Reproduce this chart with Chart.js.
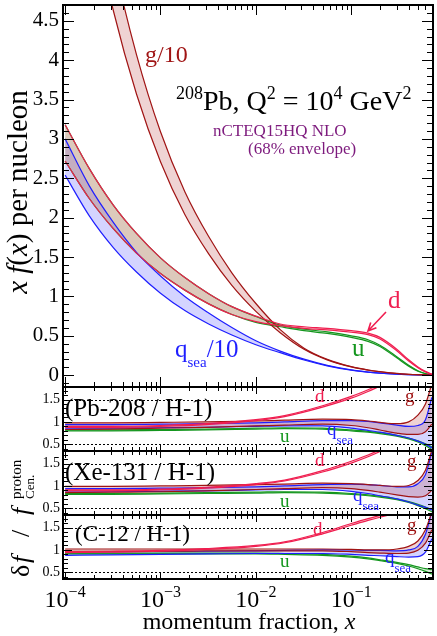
<!DOCTYPE html>
<html>
<head>
<meta charset="utf-8">
<script src="https://cdn.jsdelivr.net/npm/chart.js@4.4.0/dist/chart.umd.min.js"></script>
<style>
  html, body { margin: 0; padding: 0; background: #fff; }
  #wrap { position: relative; width: 437px; height: 636px; }
  #wrap canvas { position: absolute; left: 0; top: 0; }
</style>
</head>
<body>
<div id="wrap">
  <canvas id="main" width="437" height="636"></canvas>
  <canvas id="pb" width="437" height="636"></canvas>
  <canvas id="xe" width="437" height="636"></canvas>
  <canvas id="c12" width="437" height="636"></canvas>
</div>
<script>
// ---- main panel: x f(x) per nucleon, Pb-208, Q^2 = 10^4 GeV^2
const xMain = [1e-4, 1.8e-4, 3.2e-4, 5.6e-4, 1e-3, 1.8e-3, 3.2e-3, 5.6e-3, 1e-2, 1.8e-2, 3.2e-2, 5.6e-2, 0.1, 0.15, 0.2, 0.3, 0.4, 0.5, 0.6, 0.7];
const gLo = [7.79, 6.0, 4.63, 3.57, 2.71, 2.04, 1.54, 1.14, 0.81, 0.54, 0.33, 0.195, 0.106, 0.065, 0.0435, 0.0215, 0.0115, 0.0064, 0.0037, 0.002];
const gHi = [8.88, 6.84, 5.28, 4.07, 3.09, 2.33, 1.76, 1.30, 0.91, 0.578, 0.343, 0.201, 0.108, 0.066, 0.044, 0.022, 0.0117, 0.0065, 0.0038, 0.002];
const dLo = [2.72, 2.24, 1.86, 1.55, 1.29, 1.08, 0.905, 0.77, 0.68, 0.63, 0.595, 0.575, 0.545, 0.515, 0.46, 0.31, 0.18, 0.095, 0.04, 0.01];
const dHi = [3.18, 2.62, 2.16, 1.80, 1.49, 1.24, 1.035, 0.87, 0.75, 0.65, 0.615, 0.595, 0.565, 0.535, 0.48, 0.33, 0.195, 0.105, 0.048, 0.014];
const uLo = [2.72, 2.24, 1.86, 1.55, 1.29, 1.08, 0.905, 0.77, 0.67, 0.615, 0.565, 0.53, 0.48, 0.43, 0.365, 0.22, 0.115, 0.05, 0.018, 0.004];
const uHi = [3.18, 2.62, 2.16, 1.80, 1.49, 1.24, 1.035, 0.87, 0.745, 0.635, 0.585, 0.55, 0.50, 0.45, 0.38, 0.235, 0.125, 0.057, 0.022, 0.006];
const qLo = [2.54, 2.02, 1.62, 1.31, 1.04, 0.82, 0.65, 0.51, 0.387, 0.286, 0.193, 0.119, 0.0635, 0.038, 0.0255, 0.013, 0.0075, 0.0044, 0.0024, 0.0014];
const qHi = [3.00, 2.40, 1.94, 1.56, 1.26, 1.00, 0.79, 0.605, 0.437, 0.306, 0.203, 0.125, 0.0665, 0.040, 0.0265, 0.0138, 0.0079, 0.0046, 0.0026, 0.0016];

// ---- ratio panels (nucleus / proton)
const xRatio = [1e-4, 3e-4, 1e-3, 3e-3, 1e-2, 2e-2, 5e-2, 0.1, 0.15, 0.2, 0.3, 0.4, 0.5, 0.6, 0.7];

const pbGLo = [0.83, 0.84, 0.86, 0.88, 0.91, 0.93, 0.95, 0.92, 0.87, 0.82, 0.75, 0.72, 0.72, 0.78, 0.95];
const pbGHi = [0.98, 0.98, 0.99, 1.00, 1.02, 1.04, 1.06, 1.05, 1.02, 0.99, 0.96, 1.00, 1.15, 1.40, 1.85];
const pbQLo = [0.86, 0.86, 0.87, 0.88, 0.90, 0.91, 0.91, 0.86, 0.81, 0.77, 0.70, 0.64, 0.57, 0.50, 0.42];
const pbQHi = [0.94, 0.94, 0.95, 0.96, 0.98, 1.00, 1.03, 1.03, 1.01, 0.98, 0.93, 0.90, 0.92, 1.05, 1.55];
const pbULo = [0.80, 0.80, 0.81, 0.82, 0.84, 0.85, 0.84, 0.80, 0.77, 0.74, 0.68, 0.62, 0.55, 0.47, 0.38];
const pbUHi = [0.82, 0.82, 0.83, 0.84, 0.86, 0.87, 0.86, 0.82, 0.79, 0.76, 0.70, 0.64, 0.58, 0.51, 0.44];
const pbDLo = [0.88, 0.88, 0.90, 0.94, 1.03, 1.12, 1.33, 1.53, 1.68, 1.80, 1.97, 2.10, 2.20, 2.30, 2.40];
const pbDHi = [0.90, 0.90, 0.92, 0.96, 1.05, 1.14, 1.36, 1.57, 1.72, 1.84, 2.02, 2.15, 2.25, 2.35, 2.45];

const xeGLo = [0.85, 0.86, 0.87, 0.89, 0.92, 0.94, 0.96, 0.94, 0.90, 0.86, 0.80, 0.76, 0.75, 0.78, 0.90];
const xeGHi = [0.99, 0.99, 1.00, 1.01, 1.03, 1.04, 1.06, 1.05, 1.03, 1.01, 0.99, 1.01, 1.12, 1.35, 1.80];
const xeQLo = [0.86, 0.87, 0.88, 0.89, 0.91, 0.92, 0.92, 0.88, 0.83, 0.78, 0.71, 0.64, 0.57, 0.52, 0.46];
const xeQHi = [0.94, 0.94, 0.95, 0.96, 0.98, 1.00, 1.03, 1.04, 1.03, 1.01, 0.98, 0.98, 1.05, 1.25, 1.75];
const xeULo = [0.81, 0.81, 0.82, 0.83, 0.84, 0.85, 0.84, 0.81, 0.78, 0.75, 0.69, 0.63, 0.56, 0.49, 0.42];
const xeUHi = [0.83, 0.83, 0.84, 0.85, 0.86, 0.87, 0.86, 0.83, 0.80, 0.77, 0.71, 0.65, 0.59, 0.53, 0.47];
const xeDLo = [0.89, 0.89, 0.91, 0.95, 1.03, 1.11, 1.31, 1.51, 1.65, 1.77, 1.93, 2.05, 2.15, 2.25, 2.35];
const xeDHi = [0.91, 0.91, 0.93, 0.97, 1.05, 1.13, 1.34, 1.55, 1.69, 1.81, 1.98, 2.10, 2.20, 2.30, 2.40];

const cGLo = [0.97, 0.97, 0.97, 0.98, 0.98, 0.98, 0.98, 0.96, 0.94, 0.93, 0.92, 0.93, 0.99, 1.15, 1.45];
const cGHi = [1.02, 1.02, 1.02, 1.02, 1.02, 1.02, 1.02, 1.01, 1.00, 1.00, 1.02, 1.08, 1.20, 1.45, 1.85];
const cQLo = [0.88, 0.89, 0.90, 0.91, 0.92, 0.92, 0.92, 0.90, 0.88, 0.87, 0.85, 0.84, 0.85, 0.95, 1.25];
const cQHi = [0.96, 0.96, 0.97, 0.97, 0.98, 0.99, 1.00, 1.00, 0.99, 0.99, 0.98, 1.00, 1.08, 1.35, 1.85];
const cULo = [0.91, 0.91, 0.91, 0.91, 0.91, 0.90, 0.88, 0.84, 0.80, 0.76, 0.70, 0.64, 0.58, 0.52, 0.46];
const cUHi = [0.93, 0.93, 0.93, 0.93, 0.93, 0.92, 0.90, 0.86, 0.82, 0.78, 0.72, 0.67, 0.62, 0.58, 0.56];
const cDLo = [0.94, 0.95, 0.97, 1.01, 1.08, 1.16, 1.36, 1.55, 1.66, 1.73, 1.82, 1.88, 1.92, 1.95, 1.98];
const cDHi = [0.96, 0.97, 0.99, 1.03, 1.10, 1.18, 1.39, 1.59, 1.70, 1.77, 1.87, 1.93, 1.97, 2.00, 2.03];

const mainTicks = [0, 0.5, 1, 1.5, 2, 2.5, 3, 3.5, 4, 4.5];
const ratioTicks = [0.5, 1, 1.5];
const xDecades = [-4, -3, -2, -1];

const X_MIN = 9.5e-5, X_MAX = 0.72;
const G_COL = '#a01414', D_COL = '#f01e50', U_COL = '#14961e', Q_COL = '#1e1eff', PURPLE = '#7d1a7d';
const G_FILL = 'rgba(190, 80, 80, 0.25)';
const D_FILL = 'rgba(230, 120, 120, 0.3)';
const U_FILL = 'rgba(60, 160, 60, 0.2)';
const Q_FILL = 'rgba(60, 60, 255, 0.22)';
const SERIF = '"Liberation Serif", "DejaVu Serif", serif';

function F(size) { return size + 'px ' + SERIF; }
function FI(size) { return 'italic ' + size + 'px ' + SERIF; }

function band(xs, lo, hi, color, fillColor, order) {
  const pts = arr => xs.map((x, i) => ({x: x, y: arr[i]}));
  const common = {borderColor: color, borderWidth: 1.2, pointRadius: 0,
                  cubicInterpolationMode: 'monotone', order: order};
  return [
    Object.assign({data: pts(lo), fill: false}, common),
    Object.assign({data: pts(hi), fill: '-1', backgroundColor: fillColor}, common)
  ];
}

// draws a run of text pieces: [text, font, dy, color]
function rich(ctx, parts, x, y, align) {
  let w = 0;
  parts.forEach(p => { ctx.font = p[1]; w += ctx.measureText(p[0]).width; });
  let cx = align === 'center' ? x - w / 2 : x;
  parts.forEach(p => {
    ctx.font = p[1];
    if (p[3]) ctx.fillStyle = p[3];
    ctx.fillText(p[0], cx, y + (p[2] || 0));
    cx += ctx.measureText(p[0]).width;
  });
  return cx;
}

function drawFrame(chart, c) {
  const ctx = chart.ctx, a = chart.chartArea;
  const xs = chart.scales.x, ys = chart.scales.y;
  ctx.save();
  ctx.strokeStyle = '#000';
  ctx.lineWidth = 1;
  ctx.beginPath();
  for (let e = -5; e <= 0; e++) {
    for (let m = 1; m <= 9; m++) {
      const v = m * Math.pow(10, e);
      if (v < X_MIN || v > X_MAX) continue;
      const p = Math.round(xs.getPixelForValue(v)) + 0.5;
      const len = m === 1 ? c.xMajor : c.xMinor;
      ctx.moveTo(p, a.top); ctx.lineTo(p, a.top + len);
      ctx.moveTo(p, a.bottom); ctx.lineTo(p, a.bottom - len);
    }
  }
  const n0 = Math.ceil(ys.min / 0.1 - 1e-6), n1 = Math.floor(ys.max / 0.1 + 1e-6);
  for (let n = n0; n <= n1; n++) {
    const v = n * 0.1;
    const p = Math.round(ys.getPixelForValue(v)) + 0.5;
    const major = n % 5 === 0;
    const len = major ? c.yMajor : c.yMinor;
    ctx.moveTo(a.left, p); ctx.lineTo(a.left + len, p);
    ctx.moveTo(a.right, p); ctx.lineTo(a.right - len, p);
  }
  ctx.stroke();
  ctx.lineWidth = 2;
  ctx.strokeRect(a.left, a.top, a.right - a.left, a.bottom - a.top);
  ctx.restore();
}

function framePlugin(c) {
  return {
    id: 'frame',
    beforeDatasetsDraw(chart) {
      if (!c.dotted) return;
      const ctx = chart.ctx, a = chart.chartArea, ys = chart.scales.y;
      ctx.save();
      ctx.strokeStyle = '#000';
      ctx.lineWidth = 1;
      ctx.setLineDash([2, 2]);
      c.dotted.forEach(v => {
        const p = Math.round(ys.getPixelForValue(v)) + 0.5;
        ctx.beginPath(); ctx.moveTo(a.left, p); ctx.lineTo(a.right, p); ctx.stroke();
      });
      ctx.restore();
    },
    afterDraw(chart) {
      drawFrame(chart, c);
      if (c.text) {
        const ctx = chart.ctx;
        ctx.save();
        ctx.textBaseline = 'alphabetic';
        ctx.textAlign = 'left';
        c.text(ctx, chart);
        ctx.restore();
      }
    }
  };
}

function makeChart(id, top, bottom, yMin, yMax, yTicks, fontSize, pad, datasets, frameCfg) {
  return new Chart(document.getElementById(id), {
    type: 'line',
    data: {datasets: datasets},
    options: {
      responsive: false,
      animation: false,
      events: [],
      layout: {padding: {left: 0, right: 4, top: top, bottom: 636 - bottom}},
      plugins: {
        legend: {display: false},
        tooltip: {enabled: false},
        filler: {drawTime: 'beforeDatasetsDraw'}
      },
      elements: {line: {capBezierPoints: false}},
      scales: {
        x: {
          type: 'logarithmic', min: X_MIN, max: X_MAX, display: false,
          afterFit: s => { s.height = 0; s.paddingLeft = 0; s.paddingRight = 0; }
        },
        y: {
          type: 'linear', min: yMin, max: yMax,
          grid: {display: false, drawTicks: false},
          border: {display: false},
          ticks: {
            font: {family: 'Liberation Serif', size: fontSize}, color: '#000', padding: pad,
            callback: v => String(v)
          },
          afterBuildTicks: s => { s.ticks = yTicks.map(v => ({value: v})); },
          afterFit: s => { s.width = 63; s.paddingTop = 0; s.paddingBottom = 0; }
        }
      }
    },
    plugins: [framePlugin(frameCfg)]
  });
}

function arrow(ctx, x0, y0, x1, y1, color) {
  const ang = Math.atan2(y1 - y0, x1 - x0);
  ctx.save();
  ctx.strokeStyle = color;
  ctx.lineWidth = 1.6;
  ctx.beginPath();
  ctx.moveTo(x0, y0); ctx.lineTo(x1, y1);
  ctx.moveTo(x1 - 9 * Math.cos(ang - 0.45), y1 - 9 * Math.sin(ang - 0.45));
  ctx.lineTo(x1, y1);
  ctx.lineTo(x1 - 9 * Math.cos(ang + 0.45), y1 - 9 * Math.sin(ang + 0.45));
  ctx.stroke();
  ctx.restore();
}

// ---- main panel
makeChart('main', 5, 387, -0.15, 4.70, mainTicks, 21, 4, [
  ...band(xMain, uLo, uHi, U_COL, U_FILL, 3),
  ...band(xMain, qLo, qHi, Q_COL, Q_FILL, 2),
  ...band(xMain, gLo, gHi, G_COL, G_FILL, 1),
  ...band(xMain, dLo, dHi, D_COL, D_FILL, 0)
], {
  xMajor: 10, xMinor: 5, yMajor: 11, yMinor: 6,
  text: ctx => {
    rich(ctx, [['g/10', F(24), 0, G_COL]], 145, 62);
    rich(ctx, [['208', F(18), -11, '#000'], ['Pb, Q', F(28), 0], ['2', F(18), -11],
               [' = 10', F(28), 0], ['4', F(18), -11], [' GeV', F(28), 0], ['2', F(18), -11]], 176, 110);
    rich(ctx, [['nCTEQ15HQ NLO', F(17), 0, PURPLE]], 213, 136);
    rich(ctx, [['(68% envelope)', F(17), 0, PURPLE]], 248, 154);
    rich(ctx, [['d', F(25), 0, D_COL]], 388, 308);
    arrow(ctx, 386, 312, 368, 331, D_COL);
    rich(ctx, [['u', F(25), 0, U_COL]], 352, 356);
    rich(ctx, [['q', F(25), 0, Q_COL], ['sea', F(15), 10], ['/10', F(25), 0]], 175, 357);
    // y title
    ctx.save();
    ctx.translate(27, 192);
    ctx.rotate(-Math.PI / 2);
    ctx.fillStyle = '#000';
    rich(ctx, [['x', FI(29)], [' ', F(29)], ['f', FI(29)], ['(', F(29)], ['x', FI(29)],
               [')', F(29)], [' per nucleon', F(29)]], 0, 0, 'center');
    ctx.restore();
  }
});

function ratioLabels(name, nameX, nameFont, top, d, g, u, q) {
  return ctx => {
    rich(ctx, [[name, F(nameFont), 0, '#000']], nameX, top + 29);
    rich(ctx, [['d', F(19), 0, D_COL]], d[0], d[1]);
    rich(ctx, [['g', F(19), 0, G_COL]], g[0], g[1]);
    rich(ctx, [['u', F(19), 0, U_COL]], u[0], u[1]);
    rich(ctx, [['q', F(19), 0, Q_COL], ['sea', F(13), 9]], q[0], q[1]);
  };
}

function ratioSets(gl, gh, ql, qh, ul, uh, dl, dh) {
  return [
    ...band(xRatio, ul, uh, U_COL, U_FILL, 3),
    ...band(xRatio, ql, qh, Q_COL, Q_FILL, 2),
    ...band(xRatio, gl, gh, G_COL, G_FILL, 1),
    ...band(xRatio, dl, dh, D_COL, D_FILL, 0)
  ];
}

const ratioFrame = {xMajor: 7, xMinor: 4, yMajor: 9, yMinor: 5, dotted: [0.5, 1.5]};

makeChart('pb', 387, 451, 0.35, 1.78, ratioTicks, 14, 3,
  ratioSets(pbGLo, pbGHi, pbQLo, pbQHi, pbULo, pbUHi, pbDLo, pbDHi),
  Object.assign({}, ratioFrame, {
    text: ratioLabels('(Pb-208 / H-1)', 65, 25, 387, [315, 402], [405, 402], [280, 442], [327, 435])
  }));

makeChart('xe', 451, 515, 0.35, 1.78, ratioTicks, 14, 3,
  ratioSets(xeGLo, xeGHi, xeQLo, xeQHi, xeULo, xeUHi, xeDLo, xeDHi),
  Object.assign({}, ratioFrame, {
    text: ratioLabels('(Xe-131 / H-1)', 65, 25, 451, [315, 466], [407, 467], [280, 507], [353, 501])
  }));

makeChart('c12', 515, 579, 0.35, 1.78, ratioTicks, 14, 3,
  ratioSets(cGLo, cGHi, cQLo, cQHi, cULo, cUHi, cDLo, cDHi),
  Object.assign({}, ratioFrame, {
    text: (ctx, chart) => {
      ratioLabels('(C-12 / H-1)', 75, 23, 512, [313, 535], [407, 531], [280, 567], [385, 563])(ctx);
      // x tick labels
      const xs = chart.scales.x;
      ctx.fillStyle = '#000';
      xDecades.forEach(e => {
        const p = xs.getPixelForValue(Math.pow(10, e));
        rich(ctx, [['10', F(24), 0], ['\u2212' + (-e), F(16), -10]], p, 607, 'center');
      });
      // x title
      rich(ctx, [['momentum fraction, ', F(24)], ['x', FI(24)]], 249, 629, 'center');
      // lower y title
      ctx.save();
      ctx.translate(29, 577);
      ctx.rotate(-Math.PI / 2);
      ctx.font = F(26); ctx.fillText('\u03b4', 0, 0);
      ctx.font = FI(26); ctx.fillText('f', 14, 0);
      ctx.font = F(26); ctx.fillText('/', 40, 0);
      ctx.font = FI(26); ctx.fillText('f', 62, 0);
      ctx.font = F(15); ctx.fillText('proton', 78, -8);
      ctx.font = F(13); ctx.fillText('Cen.', 78, 5);
      ctx.restore();
    }
  }));
</script>
</body>
</html>
